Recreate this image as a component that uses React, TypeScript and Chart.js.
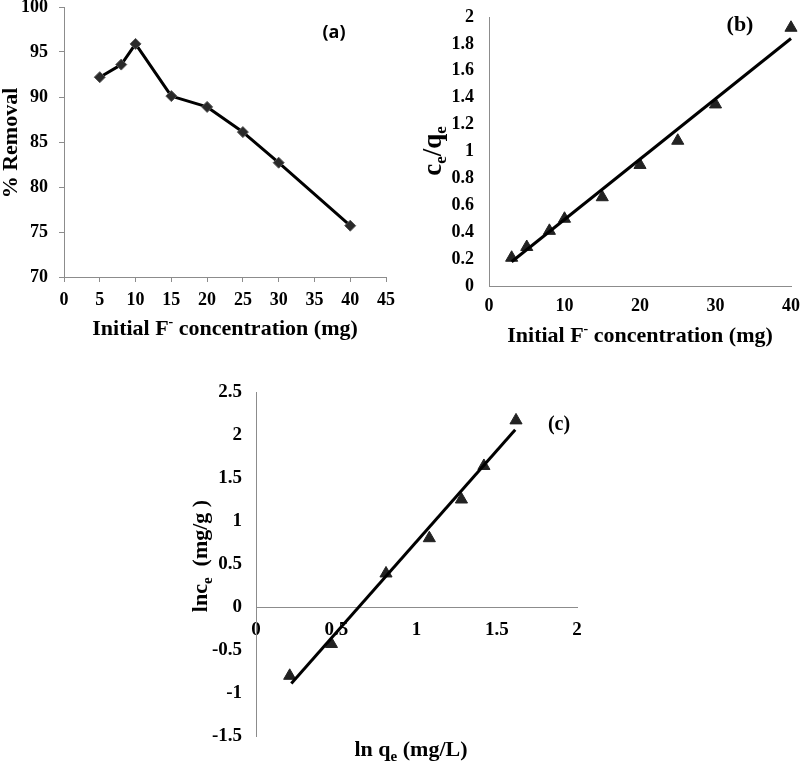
import React, { useEffect, useRef } from 'react';
import { Chart, registerables } from 'chart.js';

Chart.register(...registerables);

// ---------- Data ----------
// (a) % removal vs initial F- concentration
const removalConc = [5, 8, 10, 15, 20, 25, 30, 40];
const removalPct = [92.2, 93.6, 95.9, 90.1, 88.9, 86.1, 82.7, 75.7];
const removalXTicks = [0, 5, 10, 15, 20, 25, 30, 35, 40, 45];
const removalYTicks = [70, 75, 80, 85, 90, 95, 100];

// (b) Langmuir: ce/qe vs initial concentration
const langmuirConc = [3, 5, 8, 10, 15, 20, 25, 30, 40];
const langmuirRatio = [0.21, 0.29, 0.41, 0.5, 0.66, 0.9, 1.08, 1.35, 1.92];
const langmuirTrendX = [3, 40];
const langmuirTrendY = [0.18, 1.84];
const langmuirXTicks = [0, 10, 20, 30, 40];
const langmuirYTicks = [0, 0.2, 0.4, 0.6, 0.8, 1, 1.2, 1.4, 1.6, 1.8, 2];

// (c) Freundlich: ln ce vs ln qe
const freundlichLnQ = [0.21, 0.47, 0.81, 1.08, 1.28, 1.42, 1.62];
const freundlichLnC = [-0.8, -0.43, 0.39, 0.8, 1.25, 1.64, 2.17];
const freundlichTrendX = [0.22, 1.615];
const freundlichTrendY = [-0.89, 2.06];
const freundlichXTicks = [0, 0.5, 1, 1.5, 2];
const freundlichYTicks = [-1.5, -1, -0.5, 0, 0.5, 1, 1.5, 2, 2.5];

// ---------- Styling helpers ----------
const SERIF = "'Liberation Serif', 'Times New Roman', serif";
const SANS = "'Open Sans', 'Liberation Sans', sans-serif";
const AXIS_GREY = '#8c8c8c';

type Run = { t: string; size: number; dy?: number; family?: string };
type Label = { runs: Run[]; x: number; y: number; rotate?: boolean; baseline?: CanvasTextBaseline };

function drawLabels(ctx: CanvasRenderingContext2D, labels: Label[]) {
  labels.forEach((lab) => {
    ctx.save();
    ctx.translate(lab.x, lab.y);
    if (lab.rotate) ctx.rotate(-Math.PI / 2);
    ctx.textAlign = 'left';
    ctx.textBaseline = lab.baseline || 'alphabetic';
    ctx.fillStyle = '#000';
    let total = 0;
    const widths = lab.runs.map((r) => {
      ctx.font = `bold ${r.size}px ${r.family || SERIF}`;
      const w = ctx.measureText(r.t).width;
      total += w;
      return w;
    });
    let cx = -total / 2;
    lab.runs.forEach((r, i) => {
      ctx.font = `bold ${r.size}px ${r.family || SERIF}`;
      ctx.fillText(r.t, cx, r.dy || 0);
      cx += widths[i];
    });
    ctx.restore();
  });
}

function textPlugin(labels: Label[]) {
  return {
    id: 'richText',
    afterDraw(chart: any) {
      drawLabels(chart.ctx, labels);
    },
  };
}

function axis(
  ticks: number[],
  fontSize: number,
  padding: number,
  fit: (s: any) => void,
  withTickMarks: boolean,
  extra: any = {}
) {
  return {
    type: 'linear',
    min: ticks[0],
    max: ticks[ticks.length - 1],
    afterBuildTicks: (s: any) => {
      s.ticks = ticks.map((v) => ({ value: v }));
    },
    afterFit: fit,
    grid: withTickMarks
      ? { display: true, drawOnChartArea: false, drawTicks: true, tickLength: 5, color: AXIS_GREY, lineWidth: 1 }
      : { display: false, drawTicks: false },
    border: { display: true, color: AXIS_GREY, width: 1 },
    ticks: {
      autoSkip: false,
      maxRotation: 0,
      minRotation: 0,
      padding,
      color: '#000',
      font: { family: SERIF, size: fontSize, weight: 'bold' },
      callback: (v: any) => String(v),
    },
    ...extra,
  };
}

const yFit = (w: number) => (s: any) => {
  s.width = w;
  s.paddingTop = 0;
  s.paddingBottom = 0;
};
const xFit = (h: number) => (s: any) => {
  s.height = h;
  s.paddingLeft = 0;
  s.paddingRight = 0;
};

const basePlugins = {
  legend: { display: false },
  tooltip: { enabled: false },
  title: { display: false },
};

function pts(xs: number[], ys: number[]) {
  return xs.map((x, i) => ({ x, y: ys[i] }));
}

// ---------- Chart configs ----------
function configA(): any {
  return {
    type: 'scatter',
    data: {
      datasets: [
        {
          data: pts(removalConc, removalPct),
          showLine: true,
          borderColor: '#000',
          borderWidth: 3,
          borderJoinStyle: 'round',
          pointStyle: 'rectRot',
          pointRadius: 5.5,
          pointBackgroundColor: '#2a2a2a',
          pointBorderColor: '#555',
          pointBorderWidth: 1,
          clip: false,
        },
      ],
    },
    options: {
      responsive: false,
      animation: false,
      events: [],
      layout: { padding: { left: 0, top: 7, right: 14, bottom: 0 } },
      plugins: basePlugins,
      scales: {
        x: axis(removalXTicks, 18, 8, xFit(73), true),
        y: axis(removalYTicks, 18, 11, yFit(64), true),
      },
    },
    plugins: [
      textPlugin([
        { runs: [{ t: '% Removal', size: 22 }], x: 17, y: 143, rotate: true },
        {
          runs: [
            { t: 'Initial F', size: 22 },
            { t: '-', size: 14, dy: -9 },
            { t: ' concentration (mg)', size: 22 },
          ],
          x: 225,
          y: 335,
        },
        { runs: [{ t: '(a)', size: 18, family: SANS }], x: 334, y: 33, baseline: 'middle' },
      ]),
    ],
  };
}

function configB(): any {
  return {
    type: 'scatter',
    data: {
      datasets: [
        {
          data: pts(langmuirTrendX, langmuirTrendY),
          showLine: true,
          borderColor: '#000',
          borderWidth: 3,
          pointRadius: 0,
          clip: false,
        },
        {
          data: pts(langmuirConc, langmuirRatio),
          pointStyle: 'triangle',
          pointRadius: 7,
          pointBackgroundColor: '#222',
          pointBorderColor: '#222',
          pointBorderWidth: 1,
          clip: false,
        },
      ],
    },
    options: {
      responsive: false,
      animation: false,
      events: [],
      layout: { padding: { left: 0, top: 17, right: 9, bottom: 0 } },
      plugins: basePlugins,
      scales: {
        x: axis(langmuirXTicks, 18, 10, xFit(64), false),
        y: axis(langmuirYTicks, 18, 15, yFit(89), false),
      },
    },
    plugins: [
      textPlugin([
        {
          runs: [
            { t: 'c', size: 27 },
            { t: 'e', size: 17, dy: 5 },
            { t: '/q', size: 27 },
            { t: 'e', size: 17, dy: 5 },
          ],
          x: 41,
          y: 151,
          rotate: true,
        },
        {
          runs: [
            { t: 'Initial F', size: 22 },
            { t: '-', size: 14, dy: -9 },
            { t: ' concentration (mg)', size: 22 },
          ],
          x: 240,
          y: 342,
        },
        { runs: [{ t: '(b)', size: 22 }], x: 340, y: 25, baseline: 'middle' },
      ]),
    ],
  };
}

function configC(): any {
  return {
    type: 'scatter',
    data: {
      datasets: [
        {
          data: pts(freundlichTrendX, freundlichTrendY),
          showLine: true,
          borderColor: '#000',
          borderWidth: 3,
          pointRadius: 0,
          clip: false,
        },
        {
          data: pts(freundlichLnQ, freundlichLnC),
          pointStyle: 'triangle',
          pointRadius: 7,
          pointBackgroundColor: '#222',
          pointBorderColor: '#222',
          pointBorderWidth: 1,
          clip: false,
        },
      ],
    },
    options: {
      responsive: false,
      animation: false,
      events: [],
      layout: { padding: { left: 0, top: 22, right: 33, bottom: 29 } },
      plugins: basePlugins,
      scales: {
        x: axis(freundlichXTicks, 19, 12, xFit(30), false, { position: { y: 0 } }),
        y: axis(freundlichYTicks, 19, 14, yFit(66), false),
      },
    },
    plugins: [
      textPlugin([
        {
          runs: [
            { t: 'lnc', size: 22 },
            { t: 'e', size: 15, dy: 5 },
            { t: '  (mg/g )', size: 22 },
          ],
          x: 17,
          y: 186,
          rotate: true,
        },
        {
          runs: [
            { t: 'ln q', size: 22 },
            { t: 'e', size: 15, dy: 5 },
            { t: ' (mg/L)', size: 22 },
          ],
          x: 221,
          y: 386,
        },
        { runs: [{ t: '(c)', size: 20 }], x: 369, y: 55, baseline: 'middle' },
      ]),
    ],
  };
}

// ---------- Components ----------
function Panel(props: { left: number; top: number; width: number; height: number; build: () => any }) {
  const ref = useRef<HTMLCanvasElement>(null);
  useEffect(() => {
    if (!ref.current) return;
    const chart = new Chart(ref.current, props.build());
    return () => chart.destroy();
  }, []);
  return (
    <canvas
      ref={ref}
      width={props.width}
      height={props.height}
      style={{ position: 'absolute', left: props.left, top: props.top, width: props.width, height: props.height }}
    />
  );
}

export default function App() {
  return (
    <div style={{ position: 'absolute', left: 0, top: 0, width: 800, height: 765, background: '#fff', overflow: 'hidden' }}>
      <Panel left={0} top={0} width={400} height={350} build={configA} />
      <Panel left={400} top={0} width={400} height={350} build={configB} />
      <Panel left={190} top={370} width={420} height={395} build={configC} />
    </div>
  );
}
